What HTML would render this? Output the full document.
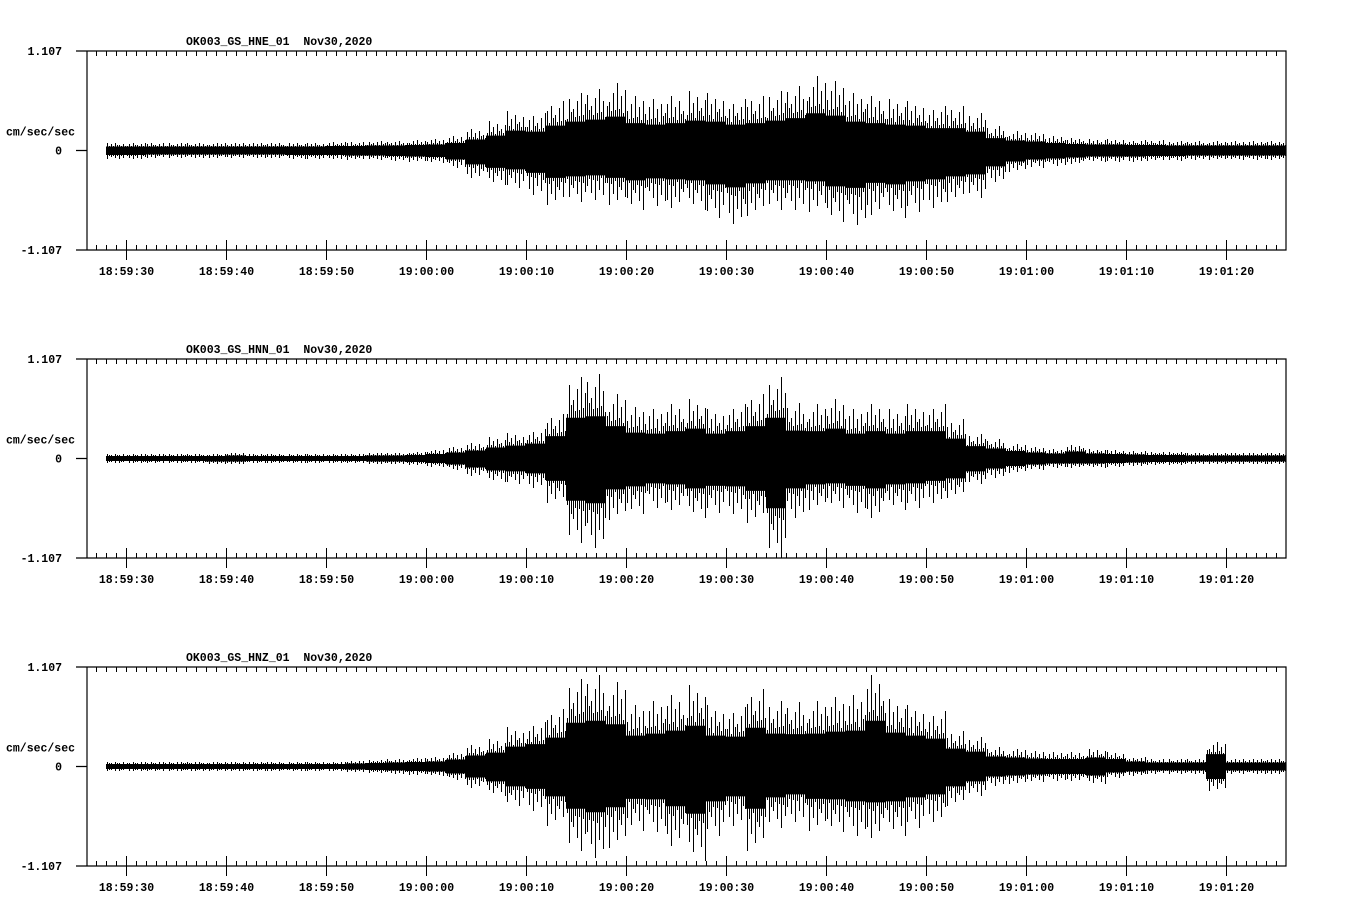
<!DOCTYPE html>
<html><head><meta charset="utf-8">
<style>
html,body{margin:0;padding:0;background:#fff;}
svg{display:block;}
text{font-family:"Liberation Mono",monospace;font-weight:bold;font-size:11.5px;fill:#000;}
</style></head>
<body>
<svg id="chart" width="1358" height="924" viewBox="0 0 1358 924" xmlns="http://www.w3.org/2000/svg"></svg>
<script>
// Time axis: seconds after 18:59:00
const tickLabels = ["18:59:30","18:59:40","18:59:50","19:00:00","19:00:10","19:00:20","19:00:30","19:00:40","19:00:50","19:01:00","19:01:10","19:01:20"];
const tickSeconds = [30,40,50,60,70,80,90,100,110,120,130,140];
const channelNames = ["OK003_GS_HNE_01","OK003_GS_HNN_01","OK003_GS_HNZ_01"];
const dateLabel = "Nov30,2020";
const fullScale = 1.107;
const binStart = 28;   // seconds after 18:59:00
const binWidth = 2;    // seconds per envelope bin
// Envelope peaks, percent of full scale, per 2-s bin
const hneUp =   [8,8,8,8,8,8,8,8,8,8,8,9,9,10,10,11,12,15,22,30,40,38,50,58,62,68,55,52,55,60,58,52,55,60,65,75,70,58,55,52,50,45,45,38,25,20,18,15,13,12,12,11,11,10,10,10,10,10,10];
const hneDown = [9,9,8,8,8,8,8,8,8,9,9,9,10,10,11,12,13,18,28,35,38,45,55,52,50,55,60,56,58,60,68,74,66,60,60,62,72,75,65,68,62,58,52,48,32,22,18,16,14,12,12,12,11,11,10,10,10,10,10];
const hnnUp =   [5,5,5,5,5,5,6,5,5,5,5,5,5,6,6,7,9,12,16,22,26,30,45,82,85,65,52,50,55,60,50,55,65,82,56,55,60,50,55,50,55,55,40,25,20,15,12,10,14,10,9,8,7,7,6,6,6,6,6];
const hnnDown = [5,5,5,5,5,6,6,5,5,5,5,5,5,6,6,7,9,12,18,24,26,30,45,85,90,62,56,50,52,60,55,56,65,100,60,52,50,55,60,52,50,45,40,26,20,15,12,10,10,10,9,8,7,7,6,6,6,6,6];
const hnzUp =   [5,5,5,5,5,5,5,5,5,5,5,5,6,7,8,9,10,14,22,28,40,45,58,88,92,85,62,66,72,82,62,60,78,66,65,66,70,72,92,68,62,56,36,30,20,18,16,15,15,18,15,10,8,8,8,25,8,8,8];
const hnzDown = [5,5,5,5,5,5,5,5,5,5,5,5,6,7,8,9,10,14,22,30,40,45,60,85,92,82,65,66,80,95,70,60,85,62,56,65,66,70,72,70,62,56,40,30,20,18,16,15,15,18,12,10,8,8,8,25,8,8,8];
const upArrays = [hneUp, hnnUp, hnzUp];
const downArrays = [hneDown, hnnDown, hnzDown];

const NS = "http://www.w3.org/2000/svg";
const svg = document.getElementById("chart");
const X0 = 87, X1 = 1286, S0 = 26.1, S1 = 146;
const panelTops = [51, 359, 667];
const H = 199;
function xScale(s){ return X0 + (s - S0) * (X1 - X0) / (S1 - S0); }
function mk(tag, attrs, parent){
  const e = document.createElementNS(NS, tag);
  for (const k in attrs) e.setAttribute(k, attrs[k]);
  (parent || svg).appendChild(e);
  return e;
}

panelTops.forEach((top, p) => {
  const g = mk("g", {});
  
  
  const bot = top + H, zero = top + H / 2;
  const yScale = v => zero - (v / 100) * (H / 2);

  const title = mk("text", {x: 186, y: top - 6}, g);
  title.textContent = channelNames[p] + "\u00a0\u00a0" + dateLabel;
  
  

  const frame = mk("path", {d:`M76 ${top}H${X1}V${bot}H76M${X0} ${top}V${bot}M76 ${zero}H${X0}`, stroke:"#000", "stroke-width":1.2, fill:"none"}, g);
  
  

  [["1.107", top + 4], ["0", zero + 4], ["-1.107", bot + 4]].forEach(([t, y]) => {
    const e = mk("text", {x: 62, y: y, "text-anchor": "end"}, g);
    e.textContent = t;
    
    
  });
  const yl = mk("text", {x: 6, y: zero - 15}, g);
  yl.textContent = "cm/sec/sec";
  
  

  let d = "";
  for (let s = 27; s < S1; s++) {
    const x = Math.round(xScale(s)) + 0.5;
    d += `M${x} ${top}v5M${x} ${bot}v-5`;
  }
  const mt = mk("path", {d, stroke:"#000", "stroke-width":1}, g);
  
  

  tickSeconds.forEach((s, i) => {
    const x = Math.round(xScale(s)) + 0.5;
    const t = mk("path", {d:`M${x} ${bot-10}V${bot+10}`, stroke:"#000", "stroke-width":1}, g);
    
    
    const l = mk("text", {x: x, y: bot + 25, "text-anchor": "middle"}, g);
    l.textContent = tickLabels[i];
    
    
  });

  const up = upArrays[p], dn = downArrays[p];
  let top_ = "", bot_ = "";
  for (let i = 0; i < up.length; i++) {
    const xa = xScale(binStart + i * binWidth), xb = xScale(binStart + (i + 1) * binWidth);
    top_ += `${i ? "L" : "M"}${xa} ${yScale(up[i]*0.5)}L${xb} ${yScale(up[i]*0.5)}`;
    bot_ = `L${xb} ${yScale(-dn[i]*0.5)}L${xa} ${yScale(-dn[i]*0.5)}` + bot_;
  }
  const core = mk("path", {d: top_ + bot_ + "Z", fill:"#000"}, g);
  
  
  let sp = "";
  const fr = [1, 0.62, 0.8, 0.55, 0.9, 0.66, 0.72, 0.58, 0.85, 0.6];
  for (let i = 0; i < up.length; i++) {
    for (let k = 0; k < 10; k++) {
      const x = Math.round(xScale(binStart + (i + (k + 0.5) / 10) * binWidth)) + 0.5;
      sp += `M${x} ${Math.round(yScale(up[i]*fr[(k + i) % 10]))}V${Math.round(yScale(-dn[i]*fr[(k+i*3+4)%10]))}`;
    }
  }
  const spikes = mk("path", {d: sp, stroke:"#000", "stroke-width":1, fill:"none", "shape-rendering":"crispEdges"}, g);
  
  
});
</script>
</body></html>
